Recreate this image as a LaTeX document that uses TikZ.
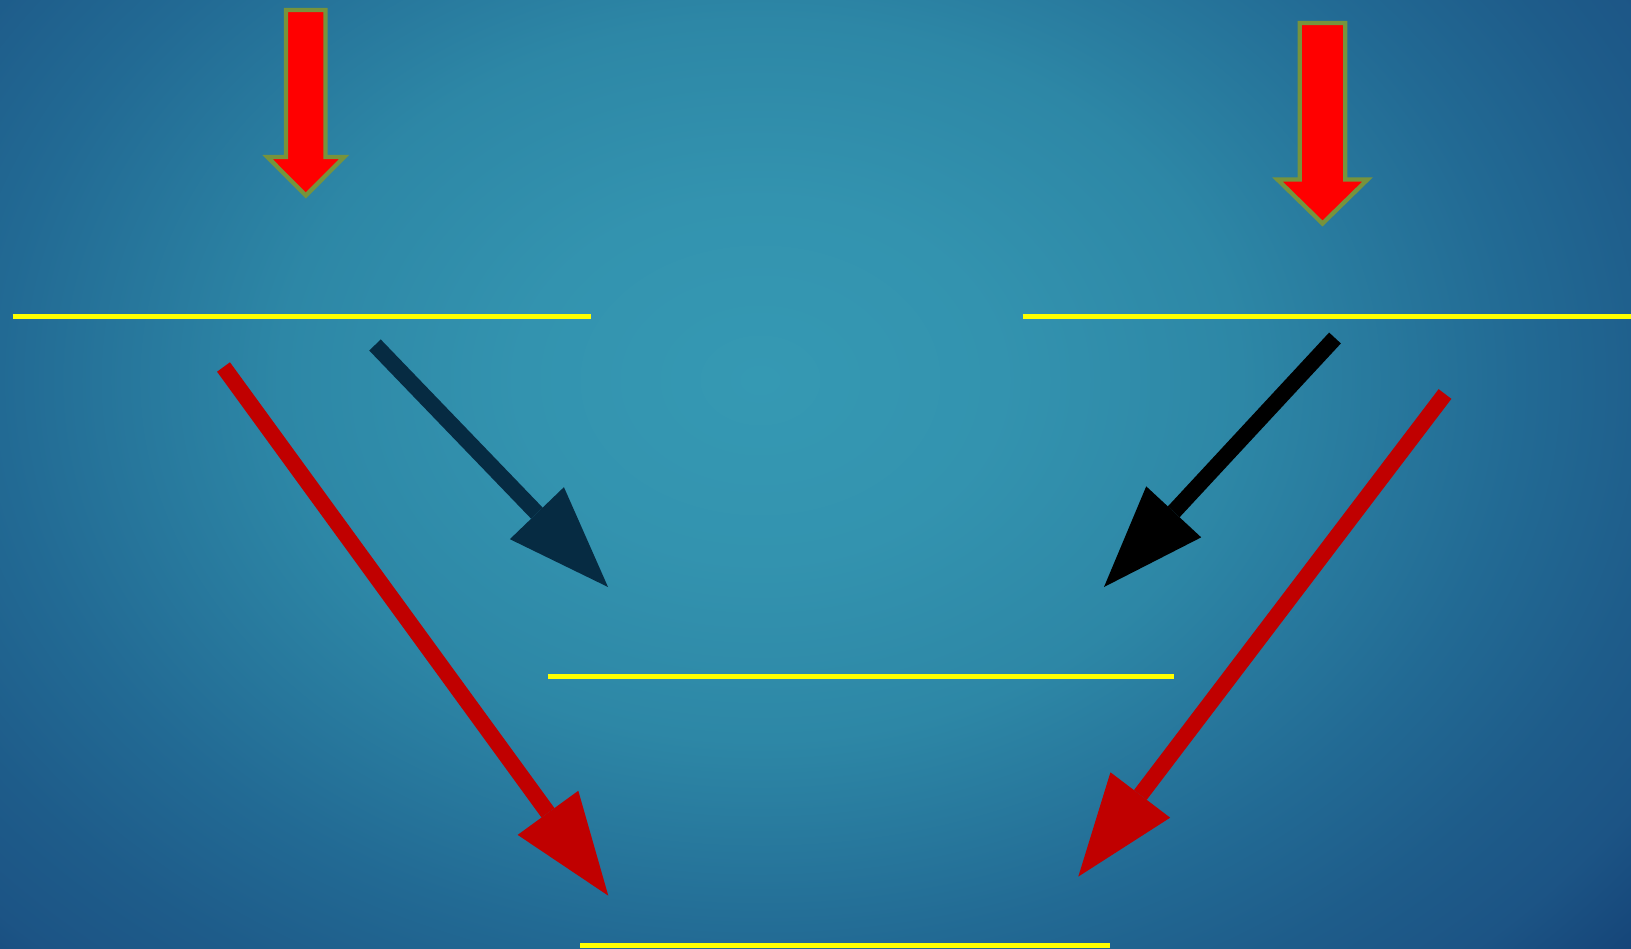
\documentclass[tikz,border=0pt]{standalone}
\usetikzlibrary{arrows.meta}
\definecolor{bgA}{HTML}{3599B3}
\definecolor{bgB}{HTML}{3393AF}
\definecolor{bgC}{HTML}{2D87A6}
\definecolor{bgD}{HTML}{226A94}
\definecolor{bgE}{HTML}{1E5C8A}
\definecolor{bgF}{HTML}{1C5485}
\definecolor{bgG}{HTML}{144276}
\definecolor{bgH}{HTML}{113B70}
\definecolor{ylw}{HTML}{FFFF00}
\definecolor{olivegreen}{HTML}{77933C}
\definecolor{navyarrow}{HTML}{062B42}
\definecolor{darkred}{HTML}{C00000}
\pgfdeclareradialshading{bgshade}{\pgfpoint{0bp}{0bp}}{color(0bp)=(bgA); color(6bp)=(bgB); color(12bp)=(bgC); color(19bp)=(bgD); color(23bp)=(bgE); color(26bp)=(bgF); color(29.5bp)=(bgG); color(50bp)=(bgH)}
\tikzset{
  yline/.style={draw=ylw, line width=5pt},
  blockarrow/.style={fill=red, draw=olivegreen, line width=4.3pt, line join=miter},
  shaftarrow/.style={line width=16pt, -{Triangle[length=102.5pt,width=75pt,line width=0pt]}}
}
\begin{document}
\begin{tikzpicture}[x=1pt,y=-1pt]
\useasboundingbox (0,0) rectangle (1631,949);
\begin{scope}
\clip (0,0) rectangle (1631,949);
\shade[shading=bgshade] (-240,-370) rectangle (1760,1130);
\end{scope}
% yellow lines
\coordinate (y1a) at (12.5,316.5); \coordinate (y1b) at (591,316.5);
\coordinate (y2a) at (1022.5,316.5); \coordinate (y2b) at (1631,316.5);
\coordinate (y3a) at (548,676.5); \coordinate (y3b) at (1174,676.5);
\coordinate (y4a) at (580,945.5); \coordinate (y4b) at (1110,945.5);
\draw[yline] (y1a) -- (y1b);
\draw[yline] (y2a) -- (y2b);
\draw[yline] (y3a) -- (y3b);
\draw[yline] (y4a) -- (y4b);
% block arrows
\draw[blockarrow] (286,10) -- (325.5,10) -- (325.5,157) -- (344.1,157) -- (305.8,195.5) -- (267.5,157) -- (286,157) -- cycle;
\draw[blockarrow] (1299.7,23) -- (1345.3,23) -- (1345.3,179.5) -- (1367.5,179.5) -- (1322.5,223.5) -- (1277.5,179.5) -- (1299.7,179.5) -- cycle;
% line arrows
\coordinate (nS) at (375,345); \coordinate (nT) at (608,587);
\coordinate (kS) at (1335,338); \coordinate (kT) at (1104,587);
\coordinate (rlS) at (223.5,367); \coordinate (rlT) at (608.3,895.7);
\coordinate (rrS) at (1445,394); \coordinate (rrT) at (1078.3,876.6);
\draw[shaftarrow, draw=navyarrow, fill=navyarrow] (nS) -- (nT);
\draw[shaftarrow, draw=black, fill=black] (kS) -- (kT);
\draw[shaftarrow, draw=darkred, fill=darkred] (rlS) -- (rlT);
\draw[shaftarrow, draw=darkred, fill=darkred] (rrS) -- (rrT);
\end{tikzpicture}
\end{document}
